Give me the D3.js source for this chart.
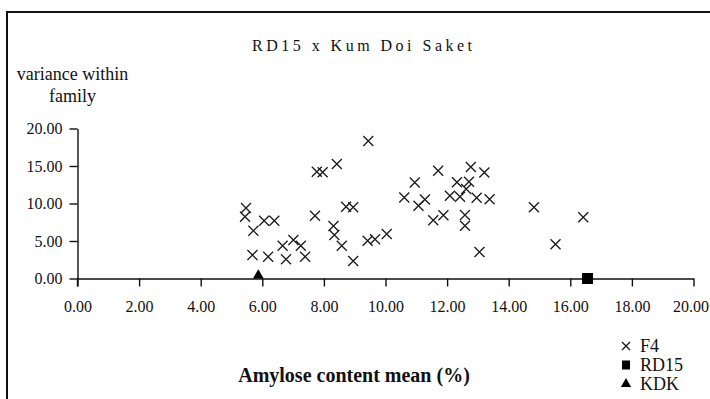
<!DOCTYPE html>
<html>
<head>
<meta charset="utf-8">
<script src="https://cdn.jsdelivr.net/npm/d3@7/dist/d3.min.js"></script>
<style>
  html, body { margin: 0; padding: 0; background: #fff; }
  svg { display: block; }
</style>
</head>
<body>
<svg id="chart" width="710" height="399"></svg>
<script>
// F4 families: amylose content mean (%) and variance within family
const f4Amylose = [5.44, 5.47, 5.71, 6.06, 6.39, 5.68, 6.19, 6.66, 7.01, 7.25, 6.77, 7.39,
  7.71, 7.96, 7.77, 8.42, 8.31, 8.34, 8.58, 8.95, 8.72, 9.44, 8.95, 9.66, 9.42, 10.04,
  10.61, 10.95, 11.07, 11.28, 11.71, 11.55, 11.88, 12.09, 12.32, 12.42, 12.62, 12.71,
  12.77, 13.21, 12.96, 13.38, 12.58, 12.58, 13.05, 14.82, 15.52, 16.42];
const f4Variance = [8.24, 9.40, 6.37, 7.71, 7.71, 3.13, 2.91, 4.37, 5.13, 4.37, 2.56, 2.91,
  8.37, 14.16, 14.24, 15.27, 7.00, 5.80, 4.37, 9.49, 9.57, 18.33, 2.33, 5.23, 5.04, 5.93,
  10.80, 12.80, 9.71, 10.53, 14.37, 7.76, 8.43, 11.04, 12.83, 10.90, 11.93, 12.90,
  14.87, 14.13, 10.77, 10.56, 8.47, 7.03, 3.53, 9.49, 4.57, 8.16];

// Parents
const rd15Amylose = [16.56];
const rd15Variance = [0];
const kdkAmylose = [5.87];
const kdkVariance = [0];

const xTicks = [0, 2, 4, 6, 8, 10, 12, 14, 16, 18, 20];
const yTicks = [0, 5, 10, 15, 20];
const legendLabels = ["F4", "RD15", "KDK"];

const SERIF = "Liberation Serif";
const ink = "#111";

const svg = d3.select("#chart").attr("font-family", SERIF);

// outer frame (top and left edges)
svg.append("path")
  .attr("d", "M7,399 V12 H710")
  .attr("fill", "none").attr("stroke", ink).attr("stroke-width", 2);

const x = d3.scaleLinear().domain([0, 20]).range([77.5, 693.5]);
const y = d3.scaleLinear().domain([0, 20]).range([278.5, 128.5]);

const fmt = d3.format(".2f");

// x axis
const gx = svg.append("g").attr("transform", `translate(0,${y(0)})`)
  .call(d3.axisBottom(x).tickValues(xTicks).tickFormat(fmt).tickSize(8).tickSizeOuter(0).tickPadding(14));
// y axis
const gy = svg.append("g").attr("transform", `translate(${x(0)},0)`)
  .call(d3.axisLeft(y).tickValues(yTicks).tickFormat(fmt).tickSize(8).tickSizeOuter(0).tickPadding(7));

[gx, gy].forEach(g => {
  g.attr("font-family", SERIF).attr("font-size", 16);
  g.select(".domain").attr("stroke", ink).attr("stroke-width", 1.4);
  g.selectAll(".tick line").attr("stroke", ink).attr("stroke-width", 1.4);
  g.selectAll(".tick text").attr("fill", ink);
});
gx.selectAll(".tick text").attr("dy", "0.71em");
// keep the last x label inside the frame
gx.selectAll(".tick text").filter(d => d === 20).attr("dx", -3);

// extend y axis line down to tick length
svg.append("line")
  .attr("x1", x(0)).attr("x2", x(0)).attr("y1", y(0)).attr("y2", y(0) + 8)
  .attr("stroke", ink).attr("stroke-width", 1.4);

// markers
const crossPath = s => `M${-s},${-s}L${s},${s}M${-s},${s}L${s},${-s}`;

svg.append("g").selectAll("path.f4")
  .data(d3.zip(f4Amylose, f4Variance))
  .join("path")
  .attr("class", "f4")
  .attr("transform", d => `translate(${x(d[0])},${y(d[1])})`)
  .attr("d", crossPath(5))
  .attr("fill", "none").attr("stroke", "#1a1a1a").attr("stroke-width", 1.3);

svg.append("g").selectAll("rect.rd15")
  .data(d3.zip(rd15Amylose, rd15Variance))
  .join("rect")
  .attr("x", d => x(d[0]) - 5.5).attr("y", d => y(d[1]) - 5.5)
  .attr("width", 11).attr("height", 11).attr("fill", "#000");

const tri = d3.symbol().type(d3.symbolTriangle).size(50);
svg.append("g").selectAll("path.kdk")
  .data(d3.zip(kdkAmylose, kdkVariance))
  .join("path")
  .attr("transform", d => `translate(${x(d[0])},${y(d[1]) - 3})`)
  .attr("d", tri()).attr("fill", "#000");

// titles
const label = (tx, ty, size, txt) => svg.append("text")
  .attr("x", tx).attr("y", ty).attr("text-anchor", "middle")
  .attr("font-family", SERIF).attr("font-size", size).attr("fill", ink)
  .text(txt);

label(362, 51, 16, "RD15 x Kum Doi Saket")
  .attr("textLength", 220).attr("lengthAdjust", "spacing");
label(72.5, 80, 18, "variance within");
label(72.5, 102, 18, "family");
label(354, 382, 20, "Amylose content mean (%)").attr("font-weight", "bold");

// legend
const rows = svg.append("g").selectAll("g").data(legendLabels).join("g")
  .attr("transform", (d, i) => `translate(626,${346 + i * 19})`);
rows.append("text").attr("x", 14).attr("y", 5.5)
  .attr("font-family", SERIF).attr("font-size", 18)
  .attr("fill", ink).text(d => d);
rows.filter((d, i) => i === 0).append("path")
  .attr("d", crossPath(4)).attr("fill", "none").attr("stroke", "#1a1a1a").attr("stroke-width", 1.3);
rows.filter((d, i) => i === 1).append("rect")
  .attr("x", -4).attr("y", -4.5).attr("width", 8).attr("height", 9).attr("fill", "#000");
rows.filter((d, i) => i === 2).append("path")
  .attr("d", d3.symbol().type(d3.symbolTriangle).size(45)()).attr("fill", "#000");
</script>
</body>
</html>
